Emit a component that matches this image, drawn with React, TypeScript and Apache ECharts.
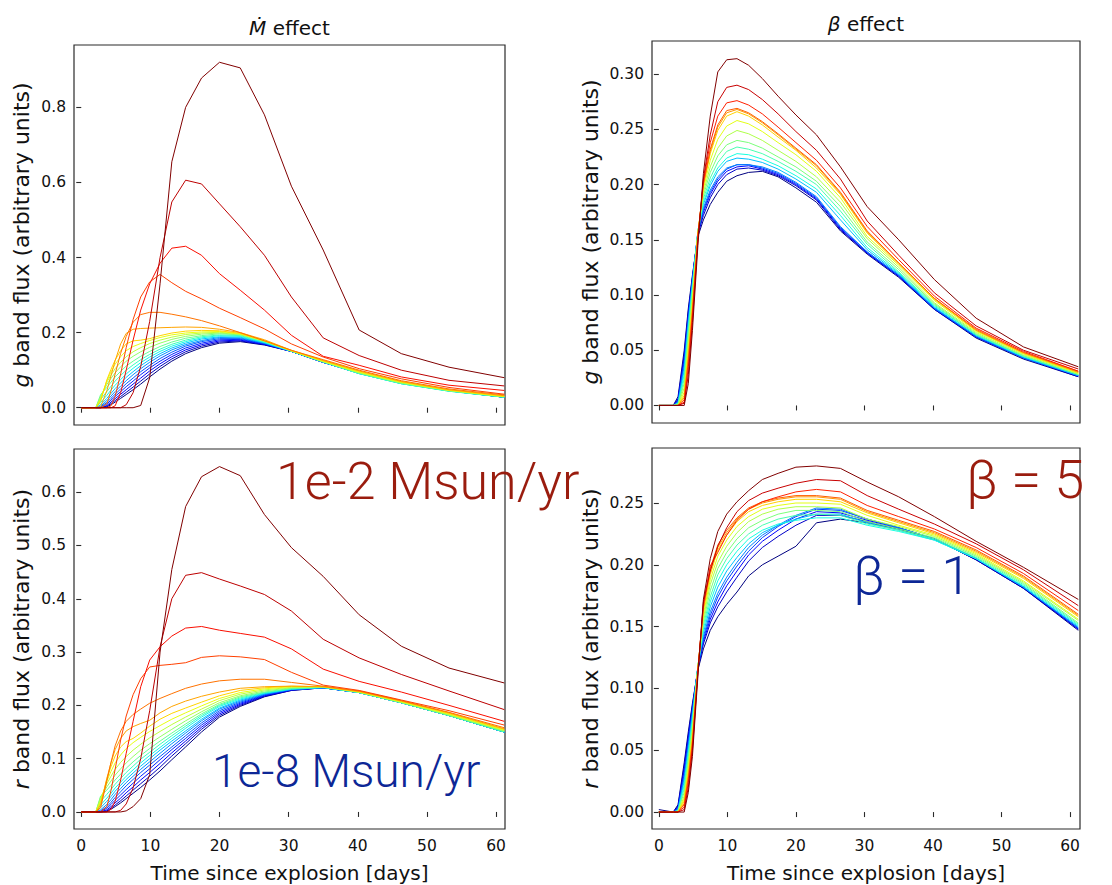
import React, { useEffect, useRef } from 'react';
import * as echarts from 'echarts';

// Time grid (days since explosion), shared by every model curve
const T = [0, 2.1, 2.8, 3.7, 4.3, 4.9, 5.7, 6.5, 7.5, 8.6, 9.9, 11.4, 13.1, 15.1, 17.4, 20.0, 23.0, 26.5, 30.4, 35.0, 40.2, 46.3, 53.2, 61.2];

// g band, mass-loss-rate effect (1e-8 -> 1e-2 Msun/yr)
const gMdot = [
  [0, 0, 0, 0.002, 0.008, 0.015, 0.025, 0.035, 0.048, 0.063, 0.082, 0.103, 0.124, 0.144, 0.16, 0.172, 0.176, 0.167, 0.15, 0.121, 0.093, 0.066, 0.046, 0.028],
  [0, 0, 0, 0.004, 0.011, 0.019, 0.03, 0.041, 0.055, 0.071, 0.09, 0.11, 0.13, 0.149, 0.164, 0.175, 0.178, 0.168, 0.15, 0.121, 0.093, 0.066, 0.046, 0.028],
  [0, 0, 0, 0.006, 0.015, 0.024, 0.036, 0.048, 0.063, 0.079, 0.098, 0.117, 0.136, 0.154, 0.168, 0.178, 0.18, 0.169, 0.15, 0.121, 0.092, 0.066, 0.046, 0.028],
  [0, 0, 0.001, 0.01, 0.02, 0.03, 0.043, 0.056, 0.071, 0.088, 0.106, 0.124, 0.142, 0.159, 0.172, 0.181, 0.182, 0.17, 0.15, 0.121, 0.092, 0.065, 0.045, 0.028],
  [0, 0, 0.002, 0.014, 0.025, 0.036, 0.05, 0.064, 0.079, 0.096, 0.113, 0.131, 0.148, 0.164, 0.176, 0.184, 0.184, 0.171, 0.15, 0.121, 0.092, 0.065, 0.045, 0.028],
  [0, 0, 0.004, 0.019, 0.031, 0.043, 0.058, 0.072, 0.088, 0.104, 0.121, 0.138, 0.154, 0.168, 0.179, 0.187, 0.186, 0.172, 0.15, 0.121, 0.091, 0.065, 0.045, 0.028],
  [0, 0, 0.008, 0.025, 0.038, 0.051, 0.066, 0.081, 0.096, 0.112, 0.128, 0.144, 0.159, 0.172, 0.183, 0.189, 0.188, 0.173, 0.15, 0.122, 0.091, 0.064, 0.045, 0.028],
  [0, 0, 0.014, 0.033, 0.047, 0.06, 0.075, 0.09, 0.105, 0.12, 0.135, 0.15, 0.164, 0.176, 0.186, 0.192, 0.19, 0.174, 0.151, 0.122, 0.091, 0.064, 0.044, 0.028],
  [0, 0, 0.022, 0.043, 0.057, 0.071, 0.086, 0.1, 0.114, 0.128, 0.142, 0.156, 0.169, 0.18, 0.189, 0.194, 0.192, 0.175, 0.151, 0.122, 0.091, 0.064, 0.044, 0.028],
  [0, 0, 0.035, 0.054, 0.068, 0.082, 0.097, 0.111, 0.124, 0.137, 0.15, 0.163, 0.175, 0.185, 0.192, 0.197, 0.194, 0.177, 0.151, 0.122, 0.092, 0.065, 0.045, 0.029],
  [0, 0, 0.03, 0.062, 0.078, 0.093, 0.109, 0.124, 0.137, 0.149, 0.161, 0.172, 0.182, 0.19, 0.196, 0.199, 0.195, 0.177, 0.151, 0.123, 0.093, 0.066, 0.046, 0.029],
  [0, 0, 0.026, 0.068, 0.087, 0.104, 0.121, 0.136, 0.149, 0.16, 0.171, 0.18, 0.188, 0.195, 0.199, 0.201, 0.196, 0.178, 0.151, 0.123, 0.094, 0.067, 0.046, 0.03],
  [0, 0, 0.022, 0.072, 0.095, 0.116, 0.136, 0.152, 0.163, 0.171, 0.179, 0.187, 0.194, 0.199, 0.202, 0.203, 0.197, 0.178, 0.152, 0.124, 0.095, 0.068, 0.047, 0.03],
  [0, 0, 0.017, 0.074, 0.102, 0.127, 0.152, 0.17, 0.178, 0.18, 0.184, 0.192, 0.199, 0.204, 0.206, 0.205, 0.198, 0.179, 0.152, 0.125, 0.097, 0.069, 0.047, 0.031],
  [0, 0, 0.003, 0.045, 0.085, 0.125, 0.17, 0.198, 0.209, 0.211, 0.212, 0.213, 0.214, 0.215, 0.214, 0.209, 0.2, 0.181, 0.153, 0.126, 0.098, 0.07, 0.048, 0.032],
  [0, 0, 0, 0.01, 0.045, 0.09, 0.145, 0.19, 0.228, 0.248, 0.254, 0.254, 0.249, 0.242, 0.232, 0.218, 0.2, 0.178, 0.153, 0.128, 0.1, 0.072, 0.05, 0.034],
  [0, 0, 0, 0, 0.005, 0.03, 0.09, 0.16, 0.235, 0.295, 0.335, 0.355, 0.333, 0.31, 0.29, 0.265, 0.24, 0.21, 0.17, 0.135, 0.104, 0.077, 0.054, 0.036],
  [0, 0, 0, 0, 0, 0.005, 0.04, 0.1, 0.18, 0.26, 0.33, 0.385, 0.425, 0.43, 0.406, 0.357, 0.313, 0.26, 0.193, 0.137, 0.113, 0.082, 0.06, 0.046],
  [0, 0, 0, 0, 0, 0, 0, 0.008, 0.04, 0.11, 0.23, 0.4, 0.548, 0.606, 0.596, 0.543, 0.482, 0.406, 0.295, 0.186, 0.139, 0.1, 0.073, 0.058],
  [0, 0, 0, 0, 0, 0, 0, 0, 0, 0.006, 0.08, 0.33, 0.655, 0.8, 0.878, 0.92, 0.905, 0.78, 0.59, 0.42, 0.207, 0.144, 0.108, 0.08],
];

// r band, mass-loss-rate effect
const rMdot = [
  [0, 0, 0, 0.001, 0.005, 0.01, 0.017, 0.025, 0.035, 0.046, 0.06, 0.077, 0.098, 0.122, 0.15, 0.178, 0.198, 0.216, 0.228, 0.233, 0.224, 0.205, 0.181, 0.15],
  [0, 0, 0, 0.002, 0.007, 0.013, 0.021, 0.03, 0.041, 0.053, 0.067, 0.084, 0.105, 0.128, 0.155, 0.181, 0.2, 0.217, 0.228, 0.233, 0.224, 0.205, 0.181, 0.15],
  [0, 0, 0, 0.004, 0.01, 0.017, 0.026, 0.036, 0.047, 0.06, 0.074, 0.091, 0.111, 0.133, 0.159, 0.184, 0.202, 0.218, 0.229, 0.233, 0.224, 0.205, 0.181, 0.15],
  [0, 0, 0.001, 0.007, 0.014, 0.022, 0.032, 0.042, 0.054, 0.067, 0.081, 0.098, 0.117, 0.138, 0.163, 0.187, 0.204, 0.219, 0.229, 0.233, 0.224, 0.205, 0.181, 0.15],
  [0, 0, 0.002, 0.01, 0.018, 0.027, 0.038, 0.049, 0.061, 0.074, 0.088, 0.104, 0.122, 0.143, 0.167, 0.19, 0.206, 0.22, 0.23, 0.233, 0.224, 0.205, 0.181, 0.15],
  [0, 0, 0.004, 0.014, 0.023, 0.033, 0.044, 0.055, 0.067, 0.08, 0.094, 0.11, 0.128, 0.148, 0.171, 0.193, 0.208, 0.221, 0.23, 0.233, 0.224, 0.205, 0.181, 0.15],
  [0, 0, 0.008, 0.02, 0.029, 0.039, 0.05, 0.061, 0.073, 0.086, 0.1, 0.116, 0.133, 0.152, 0.174, 0.195, 0.21, 0.222, 0.23, 0.233, 0.224, 0.205, 0.181, 0.15],
  [0, 0, 0.013, 0.026, 0.035, 0.045, 0.056, 0.067, 0.079, 0.092, 0.106, 0.121, 0.138, 0.157, 0.178, 0.198, 0.212, 0.223, 0.231, 0.234, 0.224, 0.205, 0.181, 0.15],
  [0, 0, 0.02, 0.033, 0.042, 0.052, 0.063, 0.074, 0.086, 0.099, 0.112, 0.127, 0.143, 0.161, 0.181, 0.2, 0.214, 0.224, 0.231, 0.234, 0.224, 0.205, 0.181, 0.15],
  [0, 0, 0.03, 0.041, 0.05, 0.06, 0.071, 0.082, 0.094, 0.106, 0.119, 0.133, 0.148, 0.165, 0.184, 0.202, 0.216, 0.225, 0.232, 0.234, 0.224, 0.205, 0.181, 0.151],
  [0, 0, 0.028, 0.047, 0.058, 0.069, 0.081, 0.092, 0.104, 0.116, 0.128, 0.141, 0.155, 0.171, 0.188, 0.205, 0.218, 0.227, 0.233, 0.235, 0.225, 0.206, 0.182, 0.152],
  [0, 0, 0.024, 0.053, 0.067, 0.08, 0.093, 0.104, 0.116, 0.127, 0.139, 0.151, 0.164, 0.178, 0.193, 0.209, 0.221, 0.229, 0.234, 0.235, 0.225, 0.206, 0.183, 0.153],
  [0, 0, 0.02, 0.058, 0.076, 0.092, 0.107, 0.119, 0.13, 0.14, 0.151, 0.162, 0.174, 0.186, 0.199, 0.213, 0.224, 0.231, 0.235, 0.235, 0.225, 0.207, 0.184, 0.154],
  [0, 0, 0.016, 0.062, 0.085, 0.105, 0.122, 0.132, 0.138, 0.148, 0.161, 0.174, 0.185, 0.195, 0.206, 0.218, 0.228, 0.233, 0.236, 0.235, 0.226, 0.208, 0.185, 0.155],
  [0, 0, 0.012, 0.063, 0.092, 0.117, 0.138, 0.152, 0.16, 0.166, 0.172, 0.186, 0.198, 0.208, 0.217, 0.225, 0.232, 0.235, 0.236, 0.235, 0.226, 0.208, 0.186, 0.156],
  [0, 0, 0.008, 0.058, 0.093, 0.124, 0.152, 0.17, 0.183, 0.193, 0.204, 0.213, 0.222, 0.232, 0.24, 0.246, 0.249, 0.249, 0.243, 0.236, 0.227, 0.209, 0.187, 0.158],
  [0, 0, 0, 0.01, 0.04, 0.08, 0.135, 0.18, 0.22, 0.25, 0.272, 0.275, 0.277, 0.28, 0.29, 0.293, 0.291, 0.286, 0.262, 0.238, 0.228, 0.21, 0.19, 0.163],
  [0, 0, 0, 0, 0.005, 0.02, 0.06, 0.11, 0.17, 0.235, 0.285, 0.31, 0.33, 0.345, 0.348, 0.341, 0.335, 0.328, 0.306, 0.268, 0.245, 0.225, 0.2, 0.17],
  [0, 0, 0, 0, 0, 0, 0.003, 0.015, 0.045, 0.1, 0.19, 0.31, 0.4, 0.444, 0.449, 0.437, 0.424, 0.408, 0.377, 0.324, 0.289, 0.258, 0.227, 0.192],
  [0, 0, 0, 0, 0, 0, 0, 0.002, 0.01, 0.025, 0.07, 0.3, 0.455, 0.573, 0.629, 0.648, 0.631, 0.558, 0.496, 0.442, 0.37, 0.311, 0.27, 0.242],
];

// g band, beta effect (beta = 1 -> 5)
const gBeta = [
  [0, 0, 0.008, 0.05, 0.088, 0.118, 0.153, 0.168, 0.182, 0.193, 0.203, 0.208, 0.211, 0.212, 0.207, 0.197, 0.184, 0.158, 0.137, 0.116, 0.087, 0.061, 0.042, 0.026],
  [0, 0, 0.006, 0.046, 0.085, 0.116, 0.155, 0.172, 0.188, 0.2, 0.209, 0.214, 0.215, 0.213, 0.208, 0.199, 0.186, 0.159, 0.138, 0.117, 0.087, 0.062, 0.043, 0.026],
  [0, 0, 0.005, 0.043, 0.082, 0.115, 0.156, 0.175, 0.191, 0.203, 0.212, 0.216, 0.217, 0.214, 0.209, 0.2, 0.187, 0.16, 0.138, 0.117, 0.088, 0.062, 0.043, 0.027],
  [0, 0, 0.004, 0.04, 0.08, 0.114, 0.157, 0.177, 0.193, 0.205, 0.214, 0.218, 0.218, 0.215, 0.21, 0.201, 0.188, 0.161, 0.139, 0.118, 0.088, 0.062, 0.043, 0.027],
  [0, 0, 0.003, 0.036, 0.077, 0.112, 0.157, 0.179, 0.195, 0.207, 0.215, 0.218, 0.218, 0.216, 0.211, 0.202, 0.189, 0.162, 0.139, 0.118, 0.088, 0.063, 0.043, 0.027],
  [0, 0, 0.002, 0.032, 0.074, 0.11, 0.158, 0.182, 0.199, 0.212, 0.221, 0.224, 0.223, 0.22, 0.214, 0.205, 0.193, 0.168, 0.141, 0.119, 0.089, 0.063, 0.044, 0.027],
  [0, 0, 0.002, 0.028, 0.071, 0.108, 0.158, 0.184, 0.202, 0.215, 0.224, 0.228, 0.227, 0.223, 0.217, 0.208, 0.196, 0.172, 0.143, 0.12, 0.09, 0.064, 0.044, 0.028],
  [0, 0, 0.001, 0.024, 0.067, 0.105, 0.158, 0.187, 0.206, 0.22, 0.23, 0.234, 0.232, 0.228, 0.221, 0.212, 0.2, 0.176, 0.146, 0.121, 0.091, 0.064, 0.045, 0.028],
  [0, 0, 0.001, 0.02, 0.062, 0.102, 0.157, 0.19, 0.211, 0.226, 0.236, 0.24, 0.238, 0.233, 0.225, 0.216, 0.203, 0.18, 0.148, 0.123, 0.092, 0.065, 0.045, 0.028],
  [0, 0, 0, 0.016, 0.057, 0.098, 0.157, 0.193, 0.216, 0.233, 0.244, 0.249, 0.246, 0.24, 0.231, 0.221, 0.207, 0.184, 0.151, 0.125, 0.093, 0.066, 0.046, 0.029],
  [0, 0, 0, 0.012, 0.052, 0.094, 0.156, 0.196, 0.222, 0.241, 0.253, 0.258, 0.255, 0.248, 0.238, 0.227, 0.212, 0.188, 0.153, 0.127, 0.095, 0.067, 0.047, 0.029],
  [0, 0, 0, 0.009, 0.047, 0.09, 0.155, 0.199, 0.228, 0.249, 0.262, 0.266, 0.262, 0.254, 0.243, 0.231, 0.215, 0.191, 0.156, 0.128, 0.096, 0.068, 0.047, 0.03],
  [0, 0, 0, 0.007, 0.043, 0.087, 0.155, 0.2, 0.23, 0.252, 0.265, 0.268, 0.264, 0.256, 0.245, 0.232, 0.217, 0.192, 0.157, 0.129, 0.097, 0.068, 0.048, 0.03],
  [0, 0, 0, 0.005, 0.04, 0.084, 0.154, 0.201, 0.232, 0.254, 0.267, 0.269, 0.265, 0.257, 0.246, 0.233, 0.218, 0.193, 0.158, 0.129, 0.097, 0.069, 0.048, 0.031],
  [0, 0, 0, 0.003, 0.035, 0.08, 0.152, 0.203, 0.238, 0.262, 0.274, 0.276, 0.272, 0.264, 0.252, 0.238, 0.222, 0.197, 0.162, 0.132, 0.099, 0.07, 0.049, 0.031],
  [0, 0, 0, 0.002, 0.028, 0.075, 0.15, 0.205, 0.245, 0.275, 0.288, 0.29, 0.286, 0.277, 0.264, 0.248, 0.231, 0.205, 0.167, 0.136, 0.102, 0.072, 0.05, 0.033],
  [0, 0, 0, 0, 0.02, 0.068, 0.145, 0.21, 0.262, 0.302, 0.313, 0.314, 0.308, 0.296, 0.28, 0.263, 0.245, 0.216, 0.18, 0.15, 0.114, 0.079, 0.053, 0.035],
];

// r band, beta effect
const rBeta = [
  [0.002, 0, 0.006, 0.04, 0.065, 0.088, 0.115, 0.132, 0.147, 0.158, 0.168, 0.178, 0.191, 0.2, 0.207, 0.215, 0.234, 0.237, 0.234, 0.229, 0.221, 0.204, 0.181, 0.147],
  [0, 0, 0.005, 0.037, 0.062, 0.086, 0.116, 0.136, 0.153, 0.166, 0.178, 0.19, 0.203, 0.214, 0.223, 0.232, 0.24, 0.24, 0.235, 0.229, 0.221, 0.204, 0.181, 0.148],
  [0, 0, 0.004, 0.034, 0.06, 0.084, 0.117, 0.138, 0.156, 0.17, 0.183, 0.195, 0.208, 0.219, 0.228, 0.237, 0.243, 0.242, 0.236, 0.23, 0.221, 0.205, 0.182, 0.148],
  [0, 0, 0.003, 0.031, 0.057, 0.082, 0.117, 0.14, 0.159, 0.174, 0.187, 0.199, 0.211, 0.222, 0.231, 0.239, 0.245, 0.244, 0.237, 0.23, 0.221, 0.205, 0.182, 0.149],
  [0, 0, 0.002, 0.028, 0.054, 0.08, 0.118, 0.142, 0.162, 0.177, 0.19, 0.202, 0.214, 0.224, 0.232, 0.24, 0.246, 0.245, 0.237, 0.23, 0.221, 0.205, 0.182, 0.149],
  [0, 0, 0.002, 0.025, 0.051, 0.078, 0.118, 0.145, 0.166, 0.182, 0.195, 0.206, 0.217, 0.226, 0.232, 0.237, 0.241, 0.241, 0.234, 0.228, 0.22, 0.205, 0.182, 0.15],
  [0, 0, 0.001, 0.022, 0.048, 0.075, 0.118, 0.148, 0.17, 0.187, 0.2, 0.211, 0.221, 0.228, 0.233, 0.236, 0.238, 0.238, 0.232, 0.227, 0.22, 0.205, 0.183, 0.151],
  [0, 0, 0.001, 0.019, 0.045, 0.072, 0.118, 0.151, 0.174, 0.192, 0.205, 0.216, 0.225, 0.232, 0.237, 0.24, 0.241, 0.24, 0.233, 0.228, 0.221, 0.206, 0.184, 0.152],
  [0, 0, 0.001, 0.016, 0.042, 0.069, 0.118, 0.154, 0.179, 0.197, 0.21, 0.221, 0.23, 0.236, 0.241, 0.244, 0.244, 0.243, 0.235, 0.229, 0.222, 0.207, 0.185, 0.153],
  [0, 0, 0, 0.013, 0.038, 0.066, 0.117, 0.157, 0.184, 0.202, 0.215, 0.226, 0.235, 0.241, 0.245, 0.247, 0.247, 0.246, 0.237, 0.231, 0.223, 0.208, 0.186, 0.155],
  [0, 0, 0, 0.011, 0.035, 0.063, 0.117, 0.16, 0.188, 0.207, 0.22, 0.231, 0.239, 0.245, 0.248, 0.25, 0.25, 0.249, 0.24, 0.232, 0.224, 0.209, 0.187, 0.156],
  [0, 0, 0, 0.009, 0.032, 0.06, 0.116, 0.163, 0.192, 0.212, 0.224, 0.235, 0.243, 0.248, 0.251, 0.253, 0.253, 0.251, 0.242, 0.234, 0.225, 0.21, 0.189, 0.158],
  [0, 0, 0, 0.007, 0.029, 0.058, 0.116, 0.165, 0.195, 0.214, 0.226, 0.237, 0.245, 0.25, 0.253, 0.255, 0.255, 0.253, 0.243, 0.235, 0.226, 0.211, 0.19, 0.159],
  [0, 0, 0, 0.006, 0.027, 0.056, 0.115, 0.166, 0.197, 0.216, 0.228, 0.238, 0.246, 0.251, 0.254, 0.256, 0.256, 0.254, 0.244, 0.236, 0.227, 0.212, 0.191, 0.16],
  [0, 0, 0, 0.004, 0.024, 0.053, 0.114, 0.168, 0.199, 0.21, 0.224, 0.236, 0.245, 0.251, 0.255, 0.259, 0.261, 0.259, 0.248, 0.239, 0.229, 0.214, 0.193, 0.163],
  [0, 0, 0, 0.002, 0.02, 0.05, 0.113, 0.17, 0.195, 0.215, 0.23, 0.243, 0.252, 0.258, 0.262, 0.266, 0.269, 0.268, 0.256, 0.245, 0.233, 0.217, 0.196, 0.167],
  [0, 0, 0, 0, 0.016, 0.045, 0.11, 0.172, 0.205, 0.227, 0.241, 0.251, 0.26, 0.269, 0.274, 0.279, 0.28, 0.278, 0.267, 0.255, 0.239, 0.219, 0.198, 0.172],
];

const xTicks = [0, 10, 20, 30, 40, 50, 60];
const yTicksGMdot = [0, 0.2, 0.4, 0.6, 0.8];
const yTicksRMdot = [0, 0.1, 0.2, 0.3, 0.4, 0.5, 0.6];
const yTicksGBeta = [0, 0.05, 0.1, 0.15, 0.2, 0.25, 0.3];
const yTicksRBeta = [0, 0.05, 0.1, 0.15, 0.2, 0.25];

const FONT = 'DejaVu Sans';
const ANNOT_FONT = 'Roboto, "Liberation Sans", Arial, sans-serif';
const TICK_SIZE = 15.5;
const YNAME_SIZE = 22;

const jetR = [[0, 0], [0.35, 0], [0.66, 1], [0.89, 1], [1, 0.5]];
const jetG = [[0, 0], [0.125, 0], [0.375, 1], [0.64, 1], [0.91, 0], [1, 0]];
const jetB = [[0, 0.5], [0.11, 1], [0.34, 1], [0.65, 0], [1, 0]];
function seg(s: number[][], x: number) {
  for (let i = 1; i < s.length; i++) {
    if (x <= s[i][0]) {
      const f = (x - s[i - 1][0]) / (s[i][0] - s[i - 1][0]);
      return s[i - 1][1] + f * (s[i][1] - s[i - 1][1]);
    }
  }
  return s[s.length - 1][1];
}
function jet(x: number) {
  const r = Math.round(255 * seg(jetR, x));
  const g = Math.round(255 * seg(jetG, x));
  const b = Math.round(255 * seg(jetB, x));
  return `rgb(${r},${g},${b})`;
}

function buildOption() {
  const panels = [
    { data: gMdot, grid: { left: 74, top: 45, width: 431, height: 380 }, xmin: -1.05, xmax: 61.3, ymin: -0.046, ymax: 0.966, yTicks: yTicksGMdot, dec: 1, band: 'g', showX: false, nameGap: 42 },
    { data: gBeta, grid: { left: 652, top: 41, width: 428, height: 382 }, xmin: -1.0, xmax: 61.45, ymin: -0.0159, ymax: 0.330, yTicks: yTicksGBeta, dec: 2, band: 'g', showX: false, nameGap: 51 },
    { data: rMdot, grid: { left: 74, top: 449, width: 431, height: 380 }, xmin: -1.05, xmax: 61.3, ymin: -0.032, ymax: 0.681, yTicks: yTicksRMdot, dec: 1, band: 'r', showX: true, nameGap: 42 },
    { data: rBeta, grid: { left: 652, top: 448, width: 428, height: 381 }, xmin: -1.0, xmax: 61.45, ymin: -0.0137, ymax: 0.2945, yTicks: yTicksRBeta, dec: 2, band: 'r', showX: true, nameGap: 51 },
  ];

  const grid: any[] = [];
  const xAxis: any[] = [];
  const yAxis: any[] = [];
  const series: any[] = [];

  panels.forEach((p, pi) => {
    grid.push({ ...p.grid, show: true, borderColor: '#2b2b2b', borderWidth: 1.2, backgroundColor: 'transparent', containLabel: false });
    xAxis.push({
      gridIndex: pi, type: 'value', min: p.xmin, max: p.xmax,
      axisLine: { show: false },
      splitLine: { show: false },
      axisTick: { show: true, customValues: xTicks, length: 5, lineStyle: { color: '#2b2b2b', width: 1.1 } },
      axisLabel: { show: p.showX, customValues: xTicks, margin: 9, fontFamily: FONT, fontSize: TICK_SIZE, color: '#111' },
      name: p.showX ? 'Time since explosion [days]' : '',
      nameLocation: 'middle', nameGap: 34,
      nameTextStyle: { fontFamily: FONT, fontSize: 20, color: '#111' },
    });
    yAxis.push({
      gridIndex: pi, type: 'value', min: p.ymin, max: p.ymax,
      axisLine: { show: false },
      splitLine: { show: false },
      axisTick: { show: true, customValues: p.yTicks, length: 5, lineStyle: { color: '#2b2b2b', width: 1.1 } },
      axisLabel: { customValues: p.yTicks, margin: 8, fontFamily: FONT, fontSize: TICK_SIZE, color: '#111', formatter: (v: number) => v.toFixed(p.dec) },
      name: `{i|${p.band}} band flux (arbitrary units)`,
      nameLocation: 'middle', nameRotate: 90, nameGap: p.nameGap,
      nameTextStyle: { fontFamily: FONT, fontSize: YNAME_SIZE, color: '#111', rich: { i: { fontFamily: FONT, fontSize: YNAME_SIZE, fontStyle: 'italic', color: '#111' } } },
    });
    const n = p.data.length;
    p.data.forEach((vals, i) => {
      series.push({
        type: 'line', xAxisIndex: pi, yAxisIndex: pi,
        data: T.map((t, k) => [t, vals[k]]),
        showSymbol: false, symbol: 'none', silent: true, clip: true,
        lineStyle: { width: 1, color: jet(i / (n - 1)) },
      });
    });
  });

  const graphic: any[] = [
    { type: 'text', x: 289.5, y: 28, style: { text: '{i|Ṁ} effect', fontFamily: FONT, fontSize: 20, fill: '#111', align: 'center', verticalAlign: 'middle', rich: { i: { fontFamily: FONT, fontSize: 20, fontStyle: 'italic', fill: '#111' } } } },
    { type: 'text', x: 866, y: 24, style: { text: '{i|β} effect', fontFamily: FONT, fontSize: 20, fill: '#111', align: 'center', verticalAlign: 'middle', rich: { i: { fontFamily: FONT, fontSize: 20, fontStyle: 'italic', fill: '#111' } } } },
    { type: 'text', x: 276, y: 455, z: 100, style: { text: '1e-2 Msun/yr', fontFamily: ANNOT_FONT, fontWeight: 300, fontSize: 52, fill: '#9a1c0e', align: 'left', verticalAlign: 'top' } },
    { type: 'text', x: 212, y: 748, z: 100, style: { text: '1e-8 Msun/yr', fontFamily: ANNOT_FONT, fontWeight: 300, fontSize: 46, fill: '#0d2796', align: 'left', verticalAlign: 'top' } },
    { type: 'text', x: 966, y: 452, z: 100, style: { text: 'β = 5', fontFamily: ANNOT_FONT, fontWeight: 300, fontSize: 54, fill: '#9a1c0e', align: 'left', verticalAlign: 'top' } },
    { type: 'text', x: 853, y: 548, z: 100, style: { text: 'β = 1', fontFamily: ANNOT_FONT, fontWeight: 300, fontSize: 54, fill: '#0d2796', align: 'left', verticalAlign: 'top' } },
  ];

  return { animation: false, backgroundColor: '#fff', grid, xAxis, yAxis, series, graphic };
}

export default function App() {
  const ref = useRef<HTMLDivElement>(null);
  useEffect(() => {
    const chart = echarts.init(ref.current!, null, { renderer: 'svg' });
    chart.setOption(buildOption());
    return () => chart.dispose();
  }, []);
  return <div ref={ref} style={{ position: 'absolute', left: 0, top: 0, width: 1112, height: 885, background: '#fff' }} />;
}
